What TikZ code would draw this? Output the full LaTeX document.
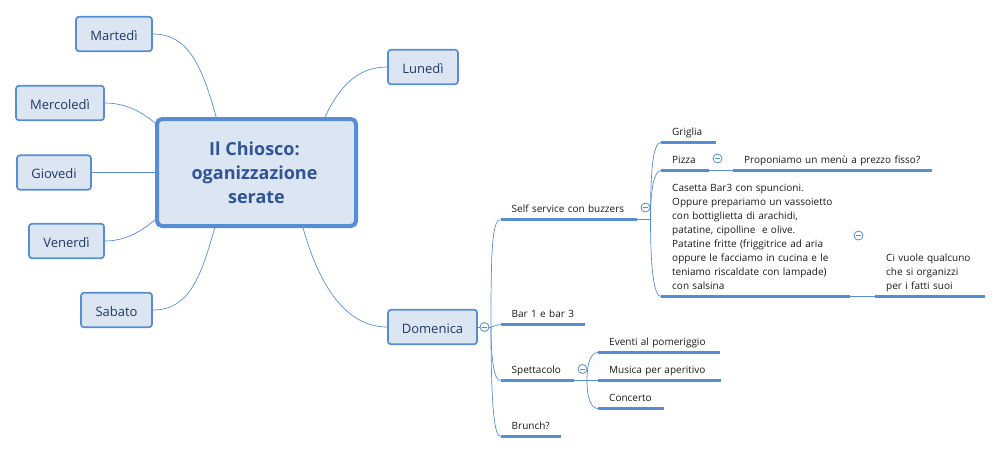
\documentclass[tikz,border=0pt]{standalone}
\usepackage{fontspec}
\setmainfont{Open Sans}
\definecolor{boxline}{HTML}{558ED5}
\definecolor{boxfill}{HTML}{DCE6F2}
\definecolor{topictext}{HTML}{1F3864}
\definecolor{maintext}{HTML}{2F5597}
\definecolor{leaftext}{HTML}{1A1A1A}
\tikzset{
    mainbox/.style={draw=boxline, fill=boxfill, line width=4pt, rounded corners=5pt, minimum width=199pt, minimum height=107pt, align=center, text=maintext, font=\fontsize{18}{24}\selectfont\bfseries},
    topicbox/.style={draw=boxline, fill=boxfill, line width=1.7pt, rounded corners=3pt, minimum height=34.5pt, inner xsep=0pt, text height=12pt, text depth=0pt, text=topictext, font=\fontsize{13}{16}\selectfont},
    leaf/.style={anchor=south west, text width=#1, inner xsep=11pt, inner ysep=3pt, align=left, text=leaftext, font=\fontsize{10}{14}\selectfont, execute at end node=\strut},
    leafline/.style={draw=boxline, line width=3.2pt},
    link/.style={draw=boxline, line width=0.7pt},
    collapse/.style={circle, draw=boxline, fill=white, line width=0.8pt, minimum size=9pt, inner sep=0pt, path picture={\draw[boxline, line width=0.7pt] ([xshift=2.2pt]path picture bounding box.west) -- ([xshift=-2.2pt]path picture bounding box.east);}},
}
\begin{document}
\begin{tikzpicture}[x=1pt, y=-1pt]
        \useasboundingbox (0,0) rectangle (1003,453);

        % main topic
        \node[mainbox] (chiosco) at (256.5,172.5) {Il Chiosco:\kern4pt\\oganizzazione\kern4pt\\serate};

        % days
        \node[topicbox, minimum width=76pt] (martedi) at (114,34) {Martedì};
        \node[topicbox, minimum width=70pt] (lunedi) at (423,67) {Lunedì};
        \node[topicbox, minimum width=88pt] (mercoledi) at (60,103) {Mercoledì};
        \node[topicbox, minimum width=74pt] (giovedi) at (54,172.5) {Giovedi};
        \node[topicbox, minimum width=75pt] (venerdi) at (66.5,241) {Venerdì};
        \node[topicbox, minimum width=71pt] (sabato) at (116.5,310) {Sabato};
        \node[topicbox, minimum width=89pt] (domenica) at (432.5,327) {Domenica};

        % days to main topic
        \draw[link] (martedi.east) .. controls +(36,0) and +(-14,-50) .. (chiosco.126.8);
        \draw[link] (lunedi.west) .. controls +(-30,0) and +(14,-30) .. (chiosco.39);
        \draw[link] (mercoledi.east) .. controls +(22,0) and +(-12,-10) .. (chiosco.154.5);
        \draw[link] (giovedi.east) -- (chiosco.west);
        \draw[link] (venerdi.east) .. controls +(22,0) and +(-12,10) .. (chiosco.205.5);
        \draw[link] (sabato.east) .. controls +(36,0) and +(-14,50) .. (chiosco.233.2);
        \draw[link] (domenica.west) .. controls +(-45,0) and +(14,50) .. (chiosco.-50);

        % leaves of domenica
        \node[leaf=114.5pt] (selfservice) at (500.5,219.5) {Self service con buzzers};
        \node[leaf=62.5pt] (bar) at (500.5,324.5) {\mbox{Bar 1 e bar 3}};
        \node[leaf=51.5pt] (spettacolo) at (500.5,380.5) {Spettacolo};
        \node[leaf=38.5pt] (brunch) at (500.5,436.5) {Brunch?};

        % leaves of self service
        \node[leaf=33pt] (griglia) at (661,142.5) {Griglia};
        \node[leaf=26pt] (pizza) at (661,170.5) {Pizza};
        \node[leaf=177pt] (menu) at (733,170.5) {Proponiamo un menù a prezzo fisso?};
        \node[leaf=167pt] (casetta) at (661,296.5) {Casetta Bar3 con spuncioni.\\Oppure prepariamo un vassoietto\\con bottiglietta di arachidi,\\patatine, cipolline\ \ e olive.\\Patatine fritte (friggitrice ad aria\\oppure le facciamo in cucina e le\\teniamo riscaldate con lampade)\\con salsina};
        \node[leaf=88pt] (qualcuno) at (875,296.5) {Ci vuole qualcuno\\che si organizzi\\per i fatti suoi};

        % leaves of spettacolo
        \node[leaf=100pt] (eventi) at (598,352.5) {Eventi al pomeriggio};
        \node[leaf=101pt] (musica) at (598,380.5) {Musica per aperitivo};
        \node[leaf=44pt] (concerto) at (598,408.5) {Concerto};

        % underlines
        \foreach \leafname in {selfservice,bar,spettacolo,brunch,griglia,pizza,menu,casetta,qualcuno,eventi,musica,concerto}
            \draw[leafline] (\leafname.south west) -- (\leafname.south east);

        % joints
        \coordinate (domjoint) at (491,327);
        \coordinate (selfjoint) at (650.5,219.5);
        \coordinate (spetjoint) at (587,380.5);

        % domenica to leaves
        \draw[link] (domenica.east) -- (domjoint);
        \draw[link] (domjoint) .. controls +(0,-70) and +(-9,0) .. (selfservice.south west);
        \draw[link] (domjoint) .. controls +(4,0) and +(-5,0) .. (bar.south west);
        \draw[link] (domjoint) .. controls +(0,35) and +(-6,0) .. (spettacolo.south west);
        \draw[link] (domjoint) .. controls +(0,70) and +(-7,0) .. (brunch.south west);

        % self service to leaves
        \draw[link] (selfservice.south east) -- (selfjoint);
        \draw[link] (selfjoint) .. controls +(0,-50) and +(-8,0) .. (griglia.south west);
        \draw[link] (selfjoint) .. controls +(0,-30) and +(-7,0) .. (pizza.south west);
        \draw[link] (selfjoint) .. controls +(0,50) and +(-7,0) .. (casetta.south west);
        \draw[link] (pizza.south east) -- (menu.south west);
        \draw[link] (casetta.south east) -- (qualcuno.south west);

        % spettacolo to leaves
        \draw[link] (spettacolo.south east) -- (musica.south west);
        \draw[link] (spetjoint) .. controls +(0,-18) and +(-7,0) .. (eventi.south west);
        \draw[link] (spetjoint) .. controls +(0,18) and +(-7,0) .. (concerto.south west);

        % collapse marks
        \node[collapse] (domcollapse) at (484.5,327) {};
        \node[collapse] (selfcollapse) at (645.5,207.5) {};
        \node[collapse] (pizzacollapse) at (717.5,158.5) {};
        \node[collapse] (casettacollapse) at (858.5,235.5) {};
        \node[collapse] (spetcollapse) at (582.5,369) {};
    \end{tikzpicture}
\end{document}
